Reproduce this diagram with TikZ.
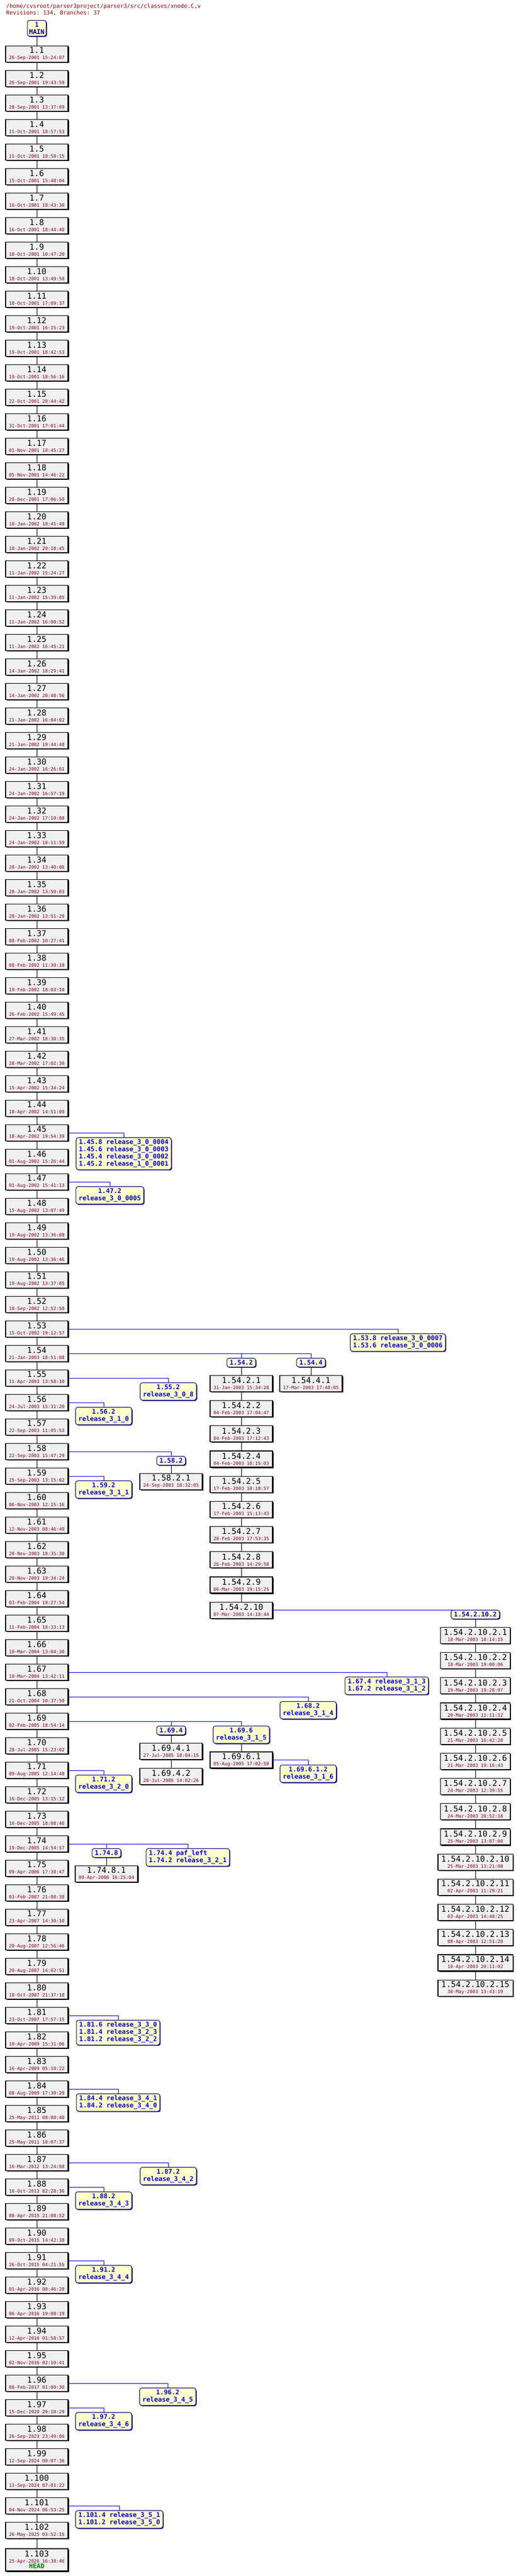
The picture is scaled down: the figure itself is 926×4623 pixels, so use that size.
\documentclass[tikz,border=0pt]{standalone}
\usepackage{fontspec}
\setmonofont{DejaVu Sans Mono}
\usepackage{tikz}
\usetikzlibrary{positioning, shadows}

\definecolor{revfill}{HTML}{F0F0F0}
\definecolor{tagfill}{HTML}{FFFFCC}
\definecolor{datered}{HTML}{800020}
\definecolor{titlered}{HTML}{990000}
\definecolor{tagblue}{HTML}{0000E0}
\definecolor{navy}{HTML}{000080}
\definecolor{branchblue}{HTML}{0000DD}
\definecolor{headgreen}{HTML}{008000}

\newcommand\revlabel[2]{{\fontsize{14.5}{15}\selectfont #1}\\[-1pt]{\fontsize{8.3}{9}\selectfont\color{datered}#2}}

\begin{document}
\ttfamily
\begin{tikzpicture}[x=1pt, y=-1pt,
    rev/.style={draw=black, line width=1.2pt, fill=revfill, align=center,
      minimum width=111pt, minimum height=29pt, inner xsep=6pt, inner ysep=1pt,
      drop shadow={shadow xshift=1.6pt, shadow yshift=-1.6pt, fill=black, opacity=1}},
    tag/.style={draw=navy, line width=1pt, fill=tagfill, rounded corners=4pt,
      align=center, anchor=north, text=tagblue, inner xsep=5pt, inner ysep=3.5pt,
      font=\fontsize{11.6}{13}\selectfont\bfseries,
      drop shadow={shadow xshift=1.4pt, shadow yshift=-1.4pt, fill=navy, opacity=1}},
    tags/.style={tag, align=left},
    trunk/.style={draw=black, line width=1pt},
    bline/.style={draw=branchblue, line width=1pt}]
  \useasboundingbox (0,0) rectangle (926,4623);

  \node[anchor=north west, align=left, text=titlered, inner sep=0pt,
    font=\fontsize{10}{12}\selectfont] (title) at (11,7)
    {/home/cvsroot/parser3project/parser3/src/classes/xnode.C,v\\Revisions: 134, Branches: 37};

  % trunk
  \node[tag, inner xsep=3pt] (t1) at (66,36) {1\\\textcolor{navy}{MAIN}};
  \foreach \n/\d in {1/26-Sep-2001 15:24:07, 2/26-Sep-2001 19:43:59, 3/28-Sep-2001 13:37:09,
      4/11-Oct-2001 18:57:53, 5/11-Oct-2001 18:58:15, 6/15-Oct-2001 15:48:04,
      7/16-Oct-2001 18:43:30, 8/16-Oct-2001 18:44:40, 9/18-Oct-2001 10:47:20,
      10/18-Oct-2001 13:49:58, 11/18-Oct-2001 17:09:37, 12/19-Oct-2001 16:15:23,
      13/19-Oct-2001 18:42:53, 14/19-Oct-2001 18:56:16, 15/22-Oct-2001 20:44:42,
      16/31-Oct-2001 17:01:44, 17/01-Nov-2001 18:45:27, 18/05-Nov-2001 14:46:22,
      19/28-Dec-2001 17:06:50, 20/10-Jan-2002 18:41:49, 21/10-Jan-2002 20:18:45,
      22/11-Jan-2002 15:24:27, 23/11-Jan-2002 15:39:05, 24/11-Jan-2002 16:00:52,
      25/11-Jan-2002 16:45:21, 26/14-Jan-2002 18:29:41, 27/14-Jan-2002 20:48:56,
      28/21-Jan-2002 16:04:02, 29/21-Jan-2002 19:44:48, 30/24-Jan-2002 16:26:01,
      31/24-Jan-2002 16:57:19, 32/24-Jan-2002 17:10:08, 33/24-Jan-2002 18:11:59,
      34/28-Jan-2002 13:40:06, 35/28-Jan-2002 13:50:03, 36/28-Jan-2002 13:51:29,
      37/08-Feb-2002 10:27:41, 38/08-Feb-2002 11:30:10, 39/19-Feb-2002 18:03:10,
      40/26-Feb-2002 15:49:45, 41/27-Mar-2002 18:30:35, 42/28-Mar-2002 17:02:30,
      43/15-Apr-2002 15:34:24, 44/18-Apr-2002 14:51:00, 45/18-Apr-2002 19:54:39,
      46/01-Aug-2002 15:26:44, 47/01-Aug-2002 15:41:13, 48/15-Aug-2002 13:07:49,
      49/19-Aug-2002 13:36:08, 50/19-Aug-2002 13:36:46, 51/19-Aug-2002 13:37:05,
      52/18-Sep-2002 12:52:50, 53/15-Oct-2002 19:12:57, 54/21-Jan-2003 18:51:08,
      55/11-Apr-2003 13:58:10, 56/24-Jul-2003 15:31:20, 57/22-Sep-2003 11:05:53,
      58/22-Sep-2003 15:47:29, 59/25-Sep-2003 13:15:02, 60/06-Nov-2003 12:15:16,
      61/12-Nov-2003 08:46:49, 62/20-Nov-2003 18:35:30, 63/20-Nov-2003 19:34:24,
      64/03-Feb-2004 19:27:54, 65/11-Feb-2004 18:33:13, 66/10-Mar-2004 13:04:30,
      67/10-Mar-2004 13:42:11, 68/21-Oct-2004 10:37:50, 69/02-Feb-2005 18:54:14,
      70/28-Jul-2005 15:23:02, 71/09-Aug-2005 12:14:48, 72/16-Dec-2005 13:15:12,
      73/16-Dec-2005 18:08:46, 74/19-Dec-2005 14:54:57, 75/09-Apr-2006 17:38:47,
      76/03-Feb-2007 21:08:38, 77/23-Apr-2007 14:30:10, 78/20-Aug-2007 12:56:46,
      79/20-Aug-2007 14:02:51, 80/10-Oct-2007 21:37:18, 81/23-Oct-2007 17:57:15,
      82/10-Apr-2009 15:31:06, 83/16-Apr-2009 05:10:22, 84/08-Aug-2009 17:30:20,
      85/25-May-2011 08:00:40, 86/25-May-2011 10:07:37, 87/16-Mar-2012 13:24:08,
      88/16-Oct-2013 02:28:36, 89/08-Apr-2015 21:08:52, 90/09-Oct-2015 14:42:38,
      91/26-Oct-2015 04:21:55, 92/01-Apr-2016 00:46:20, 93/06-Apr-2016 19:08:19,
      94/12-Apr-2016 01:58:57, 95/02-Nov-2016 02:10:41, 96/08-Feb-2017 01:00:30,
      97/15-Dec-2020 20:10:29, 98/26-Sep-2023 23:49:06, 99/12-Sep-2024 00:07:36,
      100/13-Sep-2024 07:01:22, 101/04-Nov-2024 06:53:25, 102/26-May-2025 03:52:15}
    \node[rev] (r\n) at (66,{97+44*(\n-1)}) {\revlabel{1.\n}{\d}};
  \node[rev, minimum height=40pt] (r103) at (66,4594)
    {\revlabel{1.103}{25-Apr-2026 16:38:46}\\[-2pt]{\fontsize{11.6}{12}\selectfont\bfseries\color{headgreen}HEAD}};
  \draw[trunk] (t1) -- (r1);
  \foreach \n [evaluate=\n as \m using int(\n+1)] in {1,...,102}
    \draw[trunk] (r\n) -- (r\m);

  % tags on the trunk
  \node[tags] (t45)  at (222,2041) {1.45.8 release\_3\_0\_0004\\1.45.6 release\_3\_0\_0003\\1.45.4 release\_3\_0\_0002\\1.45.2 release\_1\_0\_0001};
  \node[tag]  (t47)  at (197,2129) {1.47.2\\release\_3\_0\_0005};
  \node[tags] (t53)  at (714,2393) {1.53.8 release\_3\_0\_0007\\1.53.6 release\_3\_0\_0006};
  \node[tag]  (t54a) at (433,2437) {1.54.2};
  \node[tag]  (t54b) at (558,2437) {1.54.4};
  \node[tag]  (t55)  at (302,2481) {1.55.2\\release\_3\_0\_8};
  \node[tag]  (t56)  at (186,2525) {1.56.2\\release\_3\_1\_0};
  \node[tag]  (t58)  at (307,2613) {1.58.2};
  \node[tag]  (t59)  at (186,2657) {1.59.2\\release\_3\_1\_1};
  \node[tags] (t67)  at (694,3009) {1.67.4 release\_3\_1\_3\\1.67.2 release\_3\_1\_2};
  \node[tag]  (t68)  at (553,3053) {1.68.2\\release\_3\_1\_4};
  \node[tag]  (t69a) at (307,3097) {1.69.4};
  \node[tag]  (t69b) at (433,3097) {1.69.6\\release\_3\_1\_5};
  \node[tag]  (t71)  at (186,3185) {1.71.2\\release\_3\_2\_0};
  \node[tag]  (t74a) at (191,3317) {1.74.8};
  \node[tags] (t74b) at (337,3317) {1.74.4 paf\_left\\1.74.2 release\_3\_2\_1};
  \node[tags] (t81)  at (212,3625) {1.81.6 release\_3\_3\_0\\1.81.4 release\_3\_2\_3\\1.81.2 release\_3\_2\_2};
  \node[tags] (t84)  at (212,3757) {1.84.4 release\_3\_4\_1\\1.84.2 release\_3\_4\_0};
  \node[tag]  (t87)  at (302,3889) {1.87.2\\release\_3\_4\_2};
  \node[tag]  (t88)  at (186,3933) {1.88.2\\release\_3\_4\_3};
  \node[tag]  (t91)  at (186,4065) {1.91.2\\release\_3\_4\_4};
  \node[tag]  (t96)  at (301,4285) {1.96.2\\release\_3\_4\_5};
  \node[tag]  (t97)  at (186,4329) {1.97.2\\release\_3\_4\_6};
  \node[tags] (t101) at (214,4505) {1.101.4 release\_3\_5\_1\\1.101.2 release\_3\_5\_0};

  \foreach \r/\t in {45/t45, 47/t47, 53/t53, 54/t54b, 54/t54a, 55/t55, 56/t56, 58/t58, 59/t59,
      67/t67, 68/t68, 69/t69b, 69/t69a, 71/t71, 74/t74b, 74/t74a, 81/t81, 84/t84,
      87/t87, 88/t88, 91/t91, 96/t96, 97/t97, 101/t101}
    \draw[bline] (r\r.east) -| (\t.north);

  % branch 1.54.2
  \node[rev, below=14pt of t54a] (b54x2x1) {\revlabel{1.54.2.1}{31-Jan-2003 15:34:28}};
  \draw[trunk] (t54a) -- (b54x2x1);
  \foreach \k/\d in {2/04-Feb-2003 17:04:47, 3/04-Feb-2003 17:12:43, 4/04-Feb-2003 18:15:03,
      5/17-Feb-2003 10:18:57, 6/17-Feb-2003 15:13:43, 7/20-Feb-2003 17:53:35,
      8/26-Feb-2003 14:29:58, 9/06-Mar-2003 19:15:25, 10/07-Mar-2003 14:18:44} {
    \pgfmathtruncatemacro\p{\k-1}
    \node[rev, below=15pt of b54x2x\p] (b54x2x\k) {\revlabel{1.54.2.\k}{\d}};
    \draw[trunk] (b54x2x\p) -- (b54x2x\k);
  }

  % branch 1.54.4
  \node[rev, below=14pt of t54b] (b54x4x1) {\revlabel{1.54.4.1}{17-Mar-2003 17:48:05}};
  \draw[trunk] (t54b) -- (b54x4x1);

  % branch 1.54.2.10.2
  \node[tag] (t54x2x10) at (853,2889) {1.54.2.10.2};
  \draw[bline] (b54x2x10.east) -| (t54x2x10.north);
  \node[rev, below=14pt of t54x2x10] (c1) {\revlabel{1.54.2.10.2.1}{18-Mar-2003 18:14:15}};
  \draw[trunk] (t54x2x10) -- (c1);
  \foreach \k/\d in {2/18-Mar-2003 19:00:06, 3/19-Mar-2003 19:28:07, 4/20-Mar-2003 11:11:12,
      5/21-Mar-2003 16:42:28, 6/21-Mar-2003 19:16:43, 7/24-Mar-2003 12:39:55,
      8/24-Mar-2003 20:52:18, 9/25-Mar-2003 13:07:00, 10/25-Mar-2003 13:21:08,
      11/02-Apr-2003 11:29:21, 12/03-Apr-2003 14:48:25, 13/08-Apr-2003 12:51:28,
      14/10-Apr-2003 20:11:02, 15/30-May-2003 13:43:19} {
    \pgfmathtruncatemacro\p{\k-1}
    \node[rev, below=15pt of c\p] (c\k) {\revlabel{1.54.2.10.2.\k}{\d}};
    \draw[trunk] (c\p) -- (c\k);
  }

  % branch 1.58.2
  \node[rev, below=14pt of t58] (b58x2x1) {\revlabel{1.58.2.1}{24-Sep-2003 18:32:05}};
  \draw[trunk] (t58) -- (b58x2x1);

  % branches 1.69.4, 1.69.6
  \node[rev, below=14pt of t69a] (b69x4x1) {\revlabel{1.69.4.1}{27-Jul-2005 18:04:15}};
  \node[rev, below=15pt of b69x4x1] (b69x4x2) {\revlabel{1.69.4.2}{28-Jul-2005 14:02:26}};
  \draw[trunk] (t69a) -- (b69x4x1);
  \draw[trunk] (b69x4x1) -- (b69x4x2);
  \node[rev, below=14pt of t69b] (b69x6x1) {\revlabel{1.69.6.1}{05-Aug-2005 17:02:58}};
  \draw[trunk] (t69b) -- (b69x6x1);
  \node[tag] (t69x6x1) at (553,3167) {1.69.6.1.2\\release\_3\_1\_6};
  \draw[bline] (b69x6x1.east) -| (t69x6x1.north);

  % branch 1.74.8
  \node[rev, below=14pt of t74a] (b74x8x1) {\revlabel{1.74.8.1}{09-Apr-2006 16:25:04}};
  \draw[trunk] (t74a) -- (b74x8x1);
\end{tikzpicture}
\end{document}
